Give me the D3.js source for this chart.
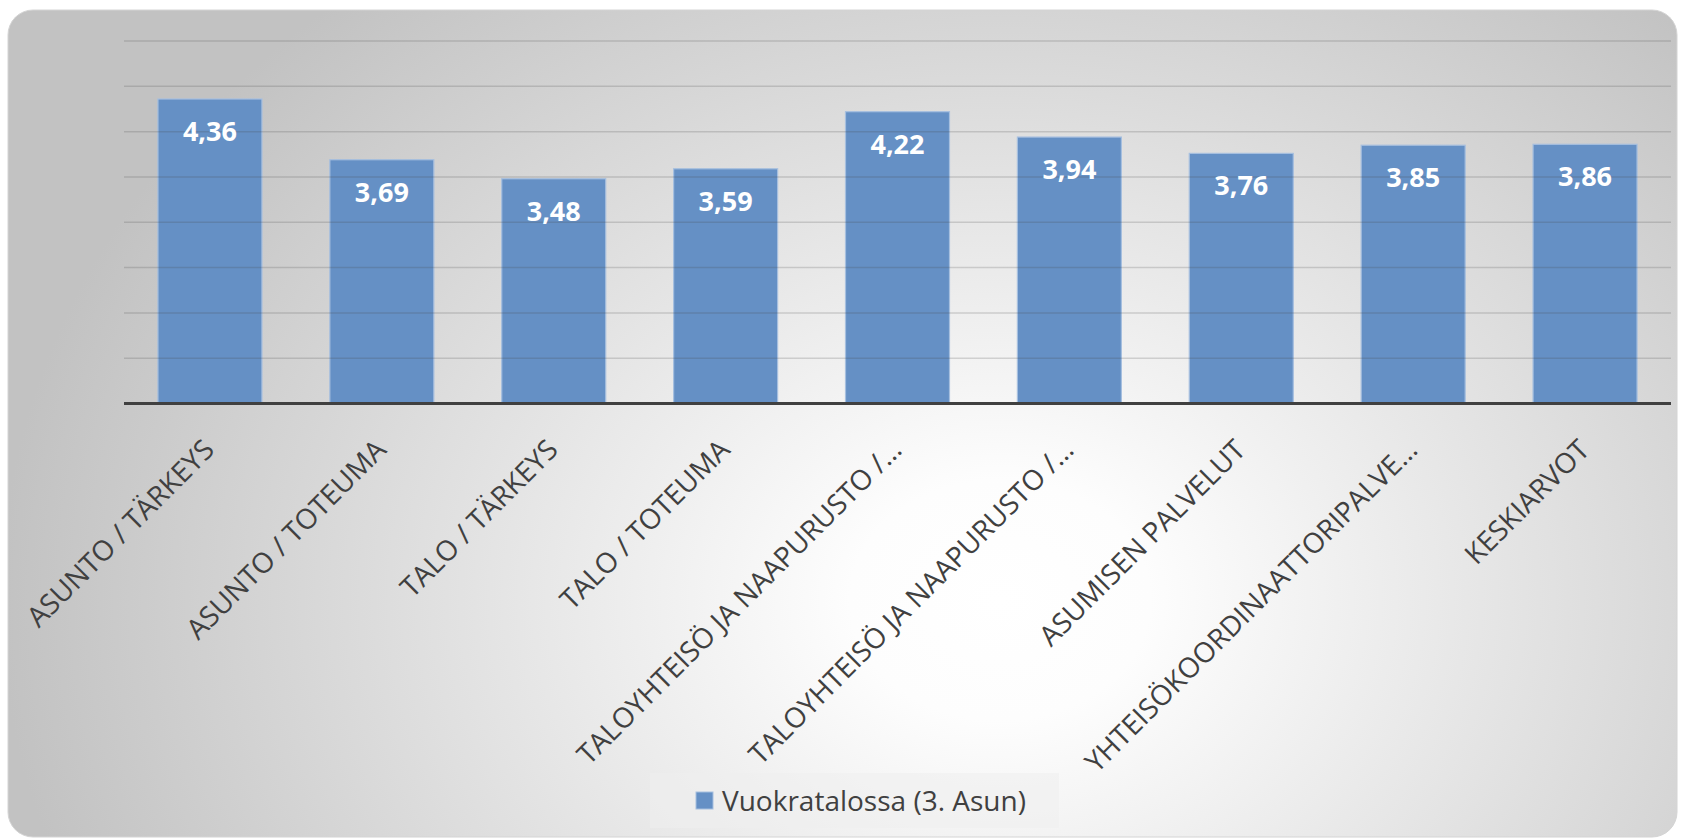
<!DOCTYPE html>
<html>
<head>
<meta charset="utf-8">
<script src="https://cdn.jsdelivr.net/npm/d3@7"></script>
<style>
  body { margin: 0; background: #fff; }
  text { font-family: "Open Sans", sans-serif; }
</style>
</head>
<body>
<div class="canvas"></div>
<script>
// data
const categories = [
  'ASUNTO / TÄRKEYS',
  'ASUNTO / TOTEUMA',
  'TALO / TÄRKEYS',
  'TALO / TOTEUMA',
  'TALOYHTEISÖ JA NAAPURUSTO /…',
  'TALOYHTEISÖ JA NAAPURUSTO /…',
  'ASUMISEN PALVELUT',
  'YHTEISÖKOORDINAATTORIPALVE…',
  'KESKIARVOT'
];
const values = [4.36, 3.69, 3.48, 3.59, 4.22, 3.94, 3.76, 3.85, 3.86];
const gridTicks = [1.5, 2, 2.5, 3, 3.5, 4, 4.5, 5];
const seriesName = 'Vuokratalossa (3. Asun)';

const width = 1689;
const height = 839;

const svg = d3.select('.canvas')
  .append('svg')
  .attr('width', width)
  .attr('height', height);

// background gradient
const defs = svg.append('defs');
const grad = defs.append('radialGradient')
  .attr('id', 'bg')
  .attr('gradientUnits', 'userSpaceOnUse')
  .attr('cx', 1000)
  .attr('cy', 600)
  .attr('r', 1000)
  .attr('gradientTransform', 'translate(1000,600) scale(1,0.8) translate(-1000,-600)');
grad.append('stop').attr('offset', '0').attr('stop-color', '#ffffff');
grad.append('stop').attr('offset', '0.15').attr('stop-color', '#fdfdfd');
grad.append('stop').attr('offset', '1').attr('stop-color', '#c2c2c2');

svg.append('rect')
  .attr('x', 8)
  .attr('y', 10)
  .attr('width', 1669)
  .attr('height', 827)
  .attr('rx', 25)
  .attr('fill', 'url(#bg)')
  .attr('stroke', '#d4d4d4')
  .attr('stroke-width', 1);

// plot area
const plot = { left: 124, right: 1671, top: 41, bottom: 403.5 };

const x = d3.scaleBand()
  .domain(d3.range(categories.length))
  .range([plot.left, plot.right])
  .paddingInner(0.395)
  .paddingOuter(0.1975);

const y = d3.scaleLinear()
  .domain([1, 5])
  .range([plot.bottom, plot.top]);

const graph = svg.append('g');

// bars
graph.selectAll('rect.bar')
  .data(values)
  .enter()
  .append('rect')
  .attr('class', 'bar')
  .attr('x', (d, i) => x(i))
  .attr('y', d => y(d))
  .attr('width', x.bandwidth())
  .attr('height', d => y(1) - y(d))
  .attr('fill', '#6590c5')
  .attr('stroke', '#a6bfdf')
  .attr('stroke-width', 1.2);

// gridlines (drawn over the bars, faintly)
graph.selectAll('line.grid')
  .data(gridTicks)
  .enter()
  .append('line')
  .attr('class', 'grid')
  .attr('x1', plot.left)
  .attr('x2', plot.right)
  .attr('y1', d => y(d))
  .attr('y2', d => y(d))
  .attr('stroke', 'rgba(70,70,70,0.2)')
  .attr('stroke-width', 1.5);

// x axis line
graph.append('line')
  .attr('x1', plot.left)
  .attr('x2', plot.right)
  .attr('y1', y(1))
  .attr('y2', y(1))
  .attr('stroke', '#404040')
  .attr('stroke-width', 3);

// value labels
graph.selectAll('text.value')
  .data(values)
  .enter()
  .append('text')
  .attr('class', 'value')
  .attr('x', (d, i) => x(i) + x.bandwidth() / 2)
  .attr('y', d => y(d) + 42)
  .attr('text-anchor', 'middle')
  .attr('fill', '#ffffff')
  .attr('font-weight', 'bold')
  .attr('font-size', 27)
  .text(d => d.toFixed(2).replace('.', ','));

// category labels
graph.selectAll('text.cat')
  .data(categories)
  .enter()
  .append('text')
  .attr('class', 'cat')
  .attr('transform', (d, i) => `translate(${x(i) + x.bandwidth() / 2 + 6}, ${y(1) + 48}) rotate(-45)`)
  .attr('text-anchor', 'end')
  .attr('fill', '#404040')
  .attr('font-size', 28)
  .text(d => d);

// legend
const legend = svg.append('g');
legend.append('rect')
  .attr('x', 650)
  .attr('y', 773)
  .attr('width', 409)
  .attr('height', 55)
  .attr('fill', 'rgba(238,238,238,0.55)');
legend.append('rect')
  .attr('x', 696)
  .attr('y', 792)
  .attr('width', 17)
  .attr('height', 17)
  .attr('fill', '#6590c5')
  .attr('stroke', '#a6bfdf')
  .attr('stroke-width', 1);
legend.append('text')
  .attr('x', 722)
  .attr('y', 811)
  .attr('fill', '#404040')
  .attr('font-size', 28)
  .text(seriesName);
</script>
</body>
</html>
